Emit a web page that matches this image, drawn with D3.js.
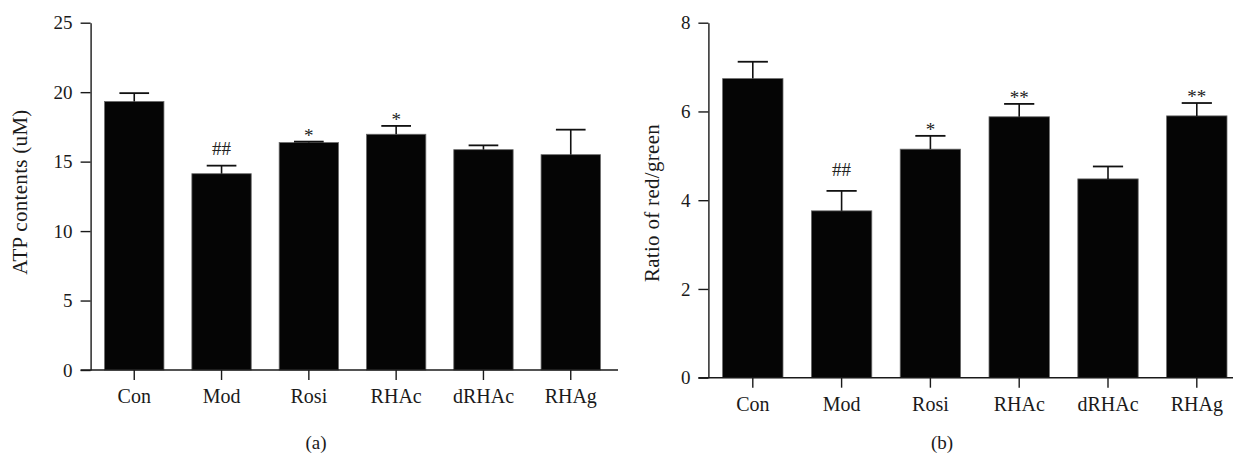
<!DOCTYPE html>
<html>
<head>
<meta charset="utf-8">
<script src="https://cdn.jsdelivr.net/npm/d3@7"></script>
<style>
  body { margin: 0; background: #fff; }
  svg { display: block; font-family: "Liberation Serif", "Times New Roman", serif; }
  .axis text { fill: #1a1a1a; font-family: "Liberation Serif", "Times New Roman", serif; }
  .axis line, .axis path { stroke: #1a1a1a; stroke-width: 1.4; }
</style>
</head>
<body>
<svg id="chart" width="1233" height="453"></svg>
<script>
// Groups on the x axis (same for both panels)
const groups = ["Con", "Mod", "Rosi", "RHAc", "dRHAc", "RHAg"];

// Panel (a): ATP contents
const atpMean = [19.33, 14.13, 16.37, 16.97, 15.86, 15.50];
const atpErr = [0.60, 0.58, 0.07, 0.60, 0.31, 1.80];
const atpMarks = ["", "##", "*", "*", "", ""];
const atpTicks = [0, 5, 10, 15, 20, 25];

// Panel (b): ratio of red/green
const ratioMean = [6.74, 3.76, 5.15, 5.88, 4.48, 5.90];
const ratioErr = [0.38, 0.45, 0.30, 0.29, 0.28, 0.29];
const ratioMarks = ["", "##", "*", "**", "", "**"];
const ratioTicks = [0, 2, 4, 6, 8];

const svg = d3.select("#chart");

function drawPanel(p) {
    const g = svg.append("g");

    const x = d3.scaleBand()
        .domain(groups)
        .range([p.left, p.right])
        .paddingInner(0.32)
        .paddingOuter(0.16);

    const y = d3.scaleLinear()
        .domain([0, d3.max(p.ticks)])
        .range([p.bottom, p.top]);

    const data = groups.map((k, i) => ({ key: k, mean: p.mean[i], err: p.err[i], mark: p.marks[i] }));

    // Bars
    g.selectAll(".bar")
        .data(data)
        .enter()
        .append("rect")
        .attr("class", "bar")
        .attr("x", d => x(d.key))
        .attr("y", d => y(d.mean))
        .attr("width", x.bandwidth())
        .attr("height", d => y(0) - y(d.mean))
        .attr("fill", "#050505")
        .attr("stroke", "#6a6a6a")
        .attr("stroke-width", 0.8);

    // Error bars (upper only)
    const cx = d => x(d.key) + x.bandwidth() / 2;
    g.selectAll(".err")
        .data(data)
        .enter()
        .append("line")
        .attr("x1", cx)
        .attr("x2", cx)
        .attr("y1", d => y(d.mean))
        .attr("y2", d => y(d.mean + d.err))
        .attr("stroke", "#111")
        .attr("stroke-width", 1.6);

    g.selectAll(".cap")
        .data(data)
        .enter()
        .append("line")
        .attr("x1", d => cx(d) - x.bandwidth() / 4)
        .attr("x2", d => cx(d) + x.bandwidth() / 4)
        .attr("y1", d => y(d.mean + d.err))
        .attr("y2", d => y(d.mean + d.err))
        .attr("stroke", "#111")
        .attr("stroke-width", 1.8);

    // Significance marks
    g.selectAll(".mark")
        .data(data.filter(d => d.mark))
        .enter()
        .append("text")
        .attr("x", cx)
        .attr("y", d => y(d.mean + d.err) - (d.mark[0] === "#" ? p.hashGap : 0))
        .attr("text-anchor", "middle")
        .style("font-size", "19px")
        .style("fill", "#222")
        .text(d => d.mark);

    // Y axis
    const yAxis = g.append("g")
        .attr("class", "axis")
        .attr("transform", `translate(${p.left},0)`)
        .call(d3.axisLeft(y)
            .tickValues(p.ticks)
            .tickSize(10)
            .tickSizeOuter(0)
            .tickPadding(8));
    yAxis.attr("font-family", null);
    yAxis.selectAll("text").style("font-size", "19px");

    // X axis
    const xAxis = g.append("g")
        .attr("class", "axis")
        .attr("transform", `translate(0,${p.bottom})`)
        .call(d3.axisBottom(x)
            .tickSize(10)
            .tickSizeOuter(0)
            .tickPadding(9));
    xAxis.attr("font-family", null);
    xAxis.select(".domain").remove();
    xAxis.append("line")
        .attr("x1", p.left - 10)
        .attr("x2", p.axisEnd)
        .attr("stroke", "#1a1a1a")
        .attr("stroke-width", 1.4);
    xAxis.selectAll("text").style("font-size", "20px");

    // Y axis title
    svg.append("text")
        .attr("transform", `translate(${p.titleX},${p.titleY}) rotate(-90)`)
        .attr("text-anchor", "middle")
        .attr("dy", "0.35em")
        .style("font-size", "21px")
        .style("letter-spacing", "0.3px")
        .style("fill", "#1a1a1a")
        .text(p.title);

    // Panel caption
    svg.append("text")
        .attr("x", p.capX)
        .attr("y", 449)
        .attr("text-anchor", "middle")
        .style("font-size", "19px")
        .style("fill", "#1a1a1a")
        .text(p.caption);
}

drawPanel({
    mean: atpMean, err: atpErr, marks: atpMarks, ticks: atpTicks,
    left: 90.6, right: 614.4, top: 22.7, bottom: 370, axisEnd: 618,
    title: "ATP contents (uM)", titleX: 20, titleY: 192,
    caption: "(a)", capX: 316, hashGap: 11
});

drawPanel({
    mean: ratioMean, err: ratioErr, marks: ratioMarks, ticks: ratioTicks,
    left: 708.4, right: 1241.2, top: 22.7, bottom: 377.7, axisEnd: 1240,
    title: "Ratio of red/green", titleX: 652, titleY: 203,
    caption: "(b)", capX: 942, hashGap: 15
});
</script>
</body>
</html>
